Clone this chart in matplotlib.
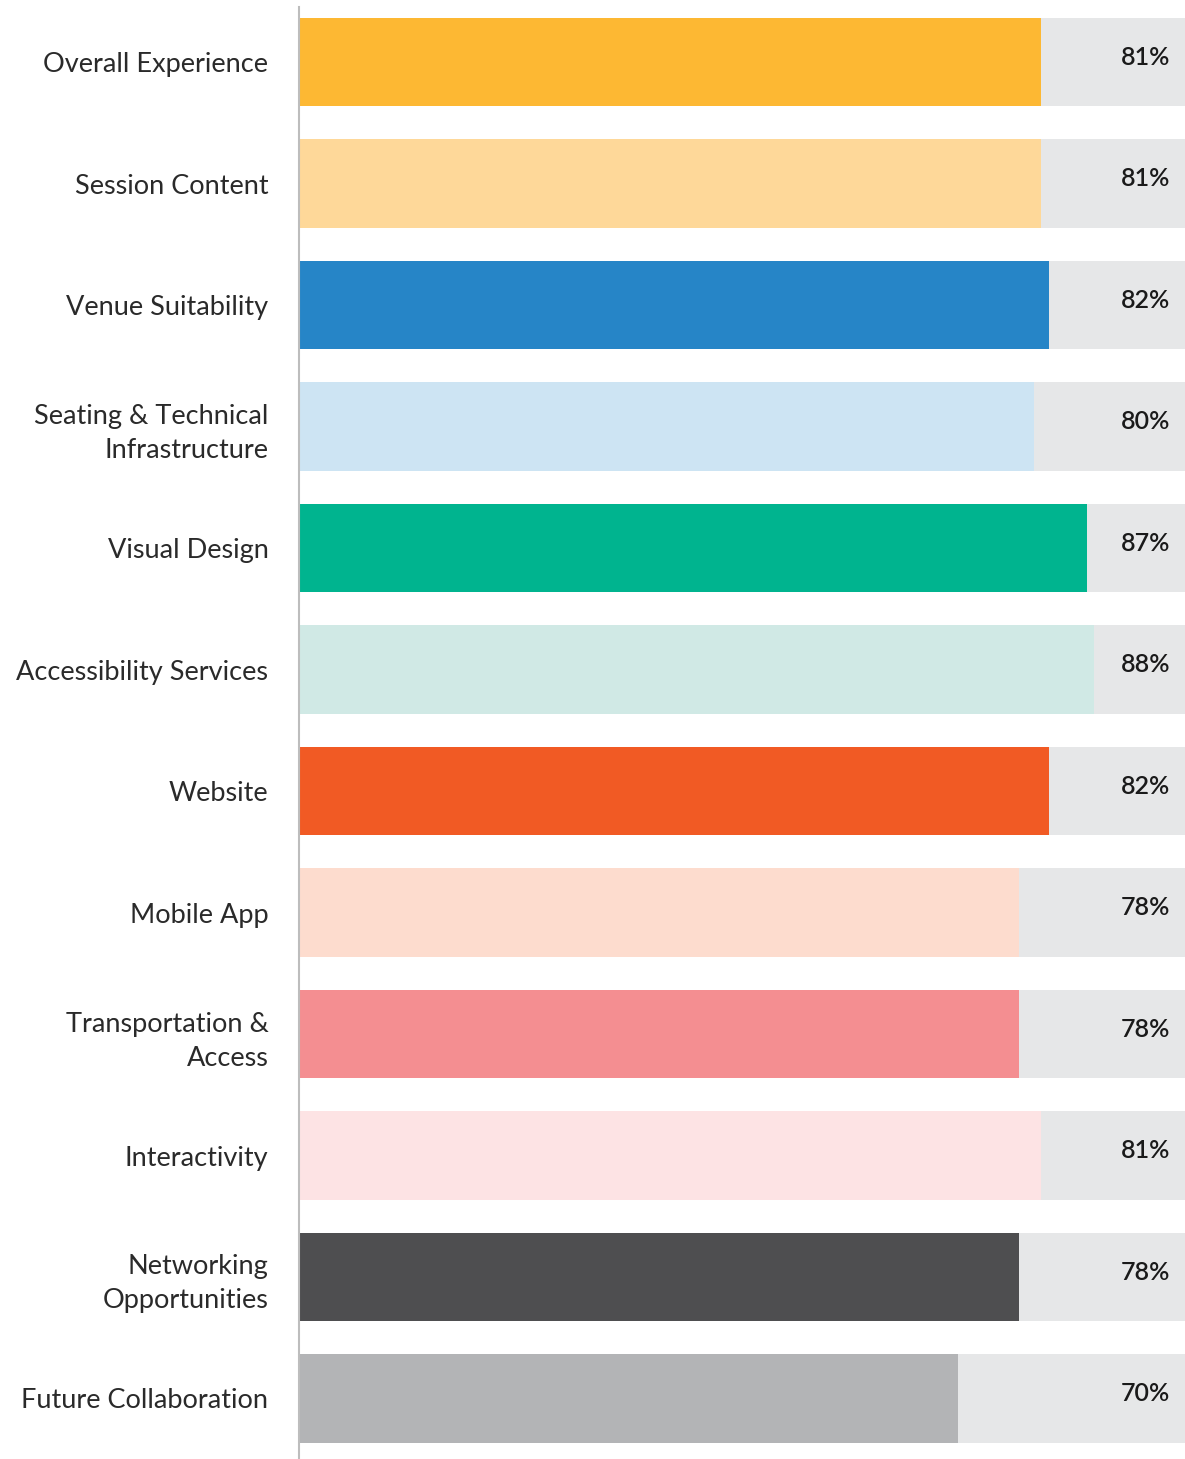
import matplotlib
matplotlib.use("Agg")
import matplotlib.pyplot as plt
import numpy as np

categories = ["Overall Experience", "Session Content", "Venue Suitability",
              "Seating & Technical\nInfrastructure", "Visual Design",
              "Accessibility Services", "Website", "Mobile App",
              "Transportation &\nAccess", "Interactivity",
              "Networking\nOpportunities", "Future Collaboration"]
values = [81, 81, 82, 80, 87, 88, 82, 78, 78, 81, 78, 70]
colors = ["#FDB833", "#FED899", "#2685C7", "#CDE4F3", "#00B48F", "#D0E9E5",
          "#F15A24", "#FDDCCE", "#F48E91", "#FDE3E4", "#4E4E50", "#B3B4B6"]

xmin = -17.26
fig = plt.figure(figsize=(11.85, 14.59), dpi=100)
ax = fig.add_axes([299 / 1185, 0, 886 / 1185, 1452 / 1459])

y = np.arange(len(categories))
ax.barh(y, 100 - xmin, left=xmin, height=0.73, color="#E6E7E8", zorder=1)
ax.barh(y, np.array(values) - xmin, left=xmin, height=0.73, color=colors, zorder=2)

for i, v in enumerate(values):
    ax.text(0.983, i - 0.04, f"{v}%", transform=ax.get_yaxis_transform(),
            ha="right", va="center", fontsize=18, family="Lato",
            fontweight="semibold", color="#1a1a1a", zorder=3)

ax.set_xlim(xmin, 100)
ax.set_ylim(11.498, -0.453)
ax.set_yticks(y)
ax.set_yticklabels(categories, fontsize=19.5, family="Lato", fontweight="normal",
                   color="#2a2a2a", linespacing=1.45)
ax.tick_params(axis="y", length=0, pad=22)
ax.set_xticks([])
for s in ["top", "right", "bottom"]:
    ax.spines[s].set_visible(False)
ax.spines["left"].set_color("#BDBDBD")
ax.spines["left"].set_linewidth(1.5)

fig.savefig("out.png", dpi=100)
